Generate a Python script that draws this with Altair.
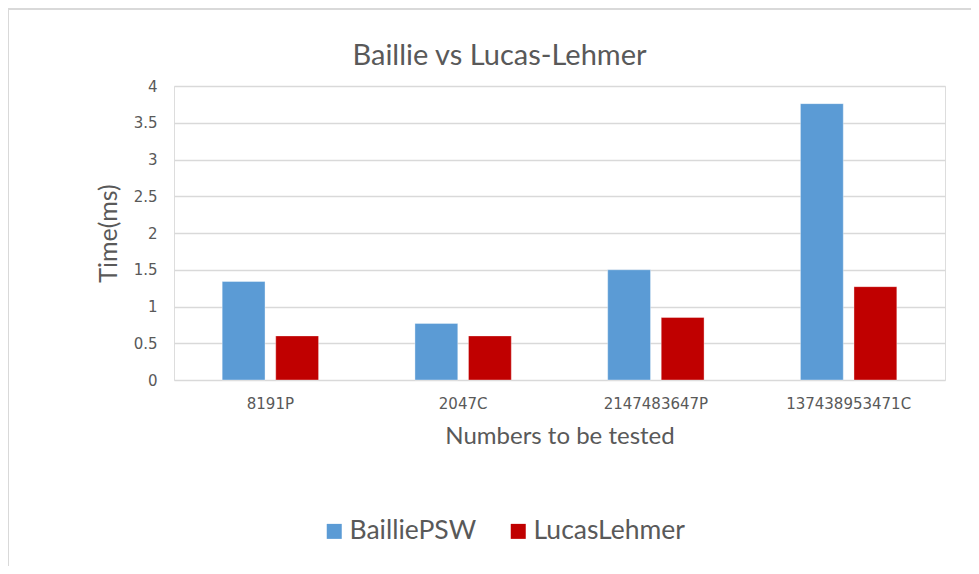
import altair as alt
import pandas as pd

categories = ["8191P", "2047C", "2147483647P", "137438953471C"]
series_names = ["BailliePSW", "LucasLehmer"]
baillie_psw = [1.34, 0.77, 1.50, 3.76]
lucas_lehmer = [0.60, 0.60, 0.85, 1.27]
colors = ["#5B9BD5", "#C00000"]
y_ticks = [0, 0.5, 1, 1.5, 2, 2.5, 3, 3.5, 4]

rows = []
for i, c in enumerate(categories):
    rows.append({"Number": c, "Series": series_names[0], "Time": baillie_psw[i]})
    rows.append({"Number": c, "Series": series_names[1], "Time": lucas_lehmer[i]})
df = pd.DataFrame(rows)

FONT = "Lato"
TICKFONT = "DejaVu Sans"
GRAY = "#595959"

bars = alt.Chart(df).mark_bar(stroke="white", strokeWidth=0.6, strokeOpacity=0.6).encode(
    x=alt.X("Number:N", sort=categories,
            scale=alt.Scale(paddingInner=0.5, paddingOuter=0.25),
            axis=alt.Axis(title="Numbers to be tested", labelAngle=0, labelFontSize=15,
                          labelColor=GRAY, labelPadding=16, titleFontSize=24,
                          titleColor=GRAY, titleFontWeight="normal", titlePadding=13,
                          domain=False, ticks=False, labelFont=TICKFONT, titleFont=FONT)),
    xOffset=alt.XOffset("Series:N", sort=series_names,
                        scale=alt.Scale(paddingInner=0.2, paddingOuter=0)),
    y=alt.Y("Time:Q", scale=alt.Scale(domain=[0, 4], nice=False),
            axis=alt.Axis(title="Time(ms)", values=y_ticks, format="~g",
                          labelFontSize=15, labelColor=GRAY, labelPadding=17,
                          titleFontSize=25, titleColor=GRAY, titleFontWeight="normal",
                          titlePadding=12, domain=False, ticks=False,
                          gridColor="#D9D9D9", gridWidth=1.5,
                          labelFont=TICKFONT, titleFont=FONT)),
    color=alt.Color("Series:N", sort=series_names,
                    scale=alt.Scale(domain=series_names, range=colors),
                    legend=alt.Legend(title=None, orient="none", direction="horizontal",
                                      legendX=147, legendY=432, padding=0,
                                      symbolType="square",
                                      symbolSize=225, symbolStrokeWidth=0,
                                      labelFontSize=26.5, labelColor=GRAY, labelFont=FONT,
                                      columnPadding=28, labelOffset=2)),
)

frame = alt.Chart(pd.DataFrame({"f": [0]})).mark_rect(
    fill="transparent", stroke="#D9D9D9", strokeWidth=2
).encode(
    x=alt.value(-166), x2=alt.value(900),
    y=alt.value(-77), y2=alt.value(600),
)

chart = alt.layer(frame, bars).properties(
    width=771,
    height=294,
    title=alt.TitleParams("Baillie vs Lucas-Lehmer", fontSize=29, font=FONT,
                          color=GRAY, fontWeight="normal", anchor="middle",
                          dx=-60, dy=74, offset=11),
    autosize=alt.AutoSizeParams(type="none"),
    padding={"left": 166, "top": 78, "right": 26, "bottom": 186},
).configure_view(stroke=None).configure(background="white")

chart.save("out.html", embed_options={"renderer": "svg", "actions": False})
